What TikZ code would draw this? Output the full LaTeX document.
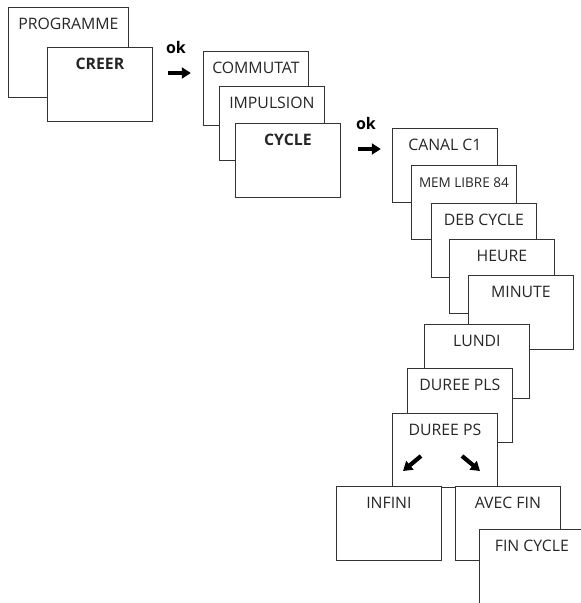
\documentclass[tikz,border=0pt]{standalone}
\usepackage{fontspec}
\setmainfont{Open Sans}
\usetikzlibrary{arrows.meta}

\begin{document}
\begin{tikzpicture}[x=1pt, y=-1pt, font=\fontsize{15.8}{18}\selectfont,
    screen/.style={draw=black!80, line width=0.8pt, fill=white, anchor=north west,
      minimum width=105pt, minimum height=74pt, inner sep=0pt,
      label={[anchor=base, yshift=-22pt, inner sep=0pt, text=black!85]north:#1}},
    okarrow/.style={line width=4.2pt, -{Triangle[length=9pt, width=11pt]}},
    oklabel/.style={anchor=base west, inner sep=0pt, font=\fontsize{16}{18}\selectfont\bfseries}
    ]
    \useasboundingbox (0,0) rectangle (581,603);

    \node[screen=PROGRAMME, minimum width=120pt, minimum height=90pt] (prog) at (8,7) {};
    \node[screen=\textbf{CREER}] (creer) at (47,47) {};

    \draw[okarrow] ([shift={(15,26)}]creer.north east) coordinate (a1) -- ++(23,0);
    \node[oklabel] (ok1) at ([shift={(-2,-20)}]a1) {ok};

    \node[screen=COMMUTAT] (commut) at (203,51) {};
    \node[screen=IMPULSION] (impuls) at (219,86) {};
    \node[screen=\textbf{CYCLE}] (cycle) at (235,123) {};

    \draw[okarrow] ([shift={(17,26)}]cycle.north east) coordinate (a2) -- ++(23,0);
    \node[oklabel] (ok2) at ([shift={(-2,-20)}]a2) {ok};

    \node[screen=CANAL C1] (canal) at (392,128) {};
    \node[screen={\fontsize{13.5}{15}\selectfont MEM LIBRE 84}] (mem) at (411,165) {};
    \node[screen=DEB CYCLE] (deb) at (431,203) {};
    \node[screen=HEURE] (heure) at (449,239) {};
    \node[screen=MINUTE] (minute) at (468,275) {};
    \node[screen=LUNDI] (lundi) at (424,324) {};
    \node[screen=DUREE PLS] (dureepls) at (407,368) {};
    \node[screen=DUREE PS] (dureeps) at (392,413) {};

    \draw[okarrow] ([shift={(29,43)}]dureeps.north west) -- ++(-18,15);
    \draw[okarrow] ([shift={(70,43)}]dureeps.north west) -- ++(18,15);

    \node[screen=INFINI] (infini) at (336,486) {};
    \node[screen=AVEC FIN] (avec) at (455,486) {};
    \node[screen=FIN CYCLE] (fin) at (479,529) {};
    %
\end{tikzpicture}
\end{document}
